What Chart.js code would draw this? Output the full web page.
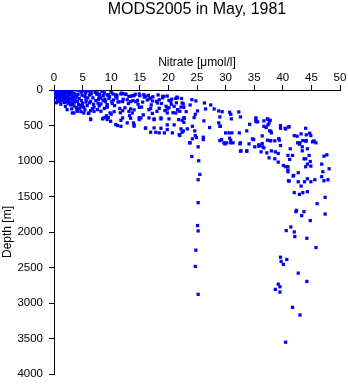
<!DOCTYPE html>
<html>
<head>
<meta charset="utf-8">
<script src="https://cdn.jsdelivr.net/npm/chart.js@4/dist/chart.umd.min.js"></script>
<style>
  html, body { margin: 0; padding: 0; background: #fff; }
</style>
</head>
<body>
<canvas id="chart" width="348" height="384"></canvas>
<script>
const chartTitle = 'MODS2005 in May, 1981';
const xLabel = 'Nitrate [\u03bcmol/l]';
const yLabel = 'Depth [m]';
const xTicks = [0, 5, 10, 15, 20, 25, 30, 35, 40, 45, 50];
const yTicks = [0, 500, 1000, 1500, 2000, 2500, 3000, 3500, 4000];

// [nitrate, depth] pairs
const surface = [
  [0.2,5],[0.5,10],[0.8,3],[1.2,8],[1.6,4],[0.3,25],[0.7,30],[1.1,22],[1.5,28],[2.0,15],
  [2.4,10],[0.4,45],[0.9,50],[1.3,40],[1.8,48],[2.2,35],[2.7,30],[3.1,20],[0.2,65],[0.6,70],
  [1.0,60],[1.4,75],[1.9,65],[2.5,55],[3.0,60],[3.5,45],[0.5,90],[0.9,95],[1.3,85],[1.7,100],
  [2.1,90],[2.6,80],[3.2,85],[3.8,70],[4.2,60],[0.3,110],[0.8,120],[1.2,115],[1.6,130],[2.3,110],
  [2.8,120],[3.4,105],[4.0,95],[1.0,140],[1.5,155],[2.0,145],[2.6,160],[3.2,140],[3.7,130],[4.4,120],
  [1.8,175],[2.5,190],[3.0,180],[3.6,170],[4.1,160],[4.8,150],[2.9,210],[3.5,225],[4.3,205],[5.0,190],
  [0.6,150],[0.4,180],[1.2,200],[4.1,2],[4.6,10],[5.3,5],[6.0,15],[5.5,25],[6.6,8],[4.8,30],
  [0.1,15],[0.4,38],[0.7,55],[1.0,80],[1.4,105],[1.9,120],[2.4,135],[0.9,165],[2.2,170],[3.3,195]
];
const shallow = [
  [6.4,407],[8.5,407],[9.0,384],[9.2,365],[3.5,323],[4.7,305],[6.4,291],[7.6,277],[5.2,244],[9.0,164],
  [8.2,197],[5.8,220],[7.0,240],[6.2,180],[7.3,150],[5.6,130],[6.8,110],[7.9,100],[8.6,80],[7.5,60],
  [6.2,70],[5.4,90],[4.5,260],[6.0,330],[6.4,160],[7.6,42],[8.2,112],[9.3,206],[6.1,323],[7.0,300],
  [6.4,52],[5.0,230],[5.2,323],[4.1,300],[3.2,323],[2.3,277],[2.0,230],[6.4,417],[8.7,393],[8.2,300],
  [9.8,323],[3.9,245],[4.6,215],[5.6,170],[6.9,200],[7.7,185],[8.9,130],[9.7,95],[5.9,110],[4.9,75],
  [3.1,265],[4.0,280],[5.4,280],[6.7,265],[7.9,225],[8.8,260],[10.2,190],[11.0,115],[10.0,35],[8.4,20]
];
const upperBand = [
  [10.8,90],[12.0,52],[12.8,136],[13.7,80],[14.6,146],[15.7,66],[16.9,112],[18.1,183],[19.2,90],[20.4,160],
  [21.0,230],[21.6,277],[5.5,45],[6.5,55],[7.2,35],[8.0,60],[8.8,40],[9.5,70],[10.3,55],[11.0,75],
  [11.8,45],[12.6,65],[13.4,90],[14.2,60],[15.0,80],[15.8,100],[16.5,75],[17.3,95],[18.2,70],[19.0,110],
  [19.8,85],[20.6,130],[21.5,100],[22.3,120],[7.8,130],[8.6,150],[9.6,120],[10.4,140],[11.2,170],[12.1,130],
  [13.0,190],[13.8,150],[14.7,200],[15.5,170],[16.3,140],[17.0,210],[17.9,160],[18.8,190],[19.6,230],[20.5,200],
  [21.4,180],[22.2,240],[9.2,240],[10.6,220],[11.5,260],[12.4,250],[14.0,280],[15.3,240],[16.9,260],[18.0,300],
  [19.4,290],[20.8,320],[22.0,300],[10.0,340],[11.6,320],[13.2,360],[15.6,350],[17.2,330],
  [9.3,70],[10.8,70],[11.7,56],[12.5,56],[13.1,90],[14.0,80],[14.9,56],[16.0,90],[16.6,126],[17.2,154],
  [18.4,136],[19.0,90],[20.1,146],[21.3,118],[22.4,183],[10.1,164],[11.4,164],[12.0,164],[13.4,164],[14.3,164],
  [9.3,239],[10.5,305],[12.0,291],[13.4,267],[14.9,244],[16.6,277],[18.4,258],[19.8,267],[21.6,277],[22.7,244]
];
const lowerBand = [
  [9.5,389],[11.7,427],[13.4,398],[14.9,389],[17.5,407],[18.7,407],[20.1,407],[22.7,389],[11.1,501],[14.0,491],
  [16.0,539],[16.9,595],[17.8,595],[18.7,539],[19.8,491],[21.0,491],[19.8,557],[22.2,548],[22.7,455],
  [14.9,417],[16.0,534],[17.5,534],[18.4,604],[19.3,604],[20.7,604],[21.9,628],[11.7,511],[9.3,417],[9.9,440],
  [10.8,487],[12.8,463],[13.9,463],[14.0,510],[12.0,393],[13.1,300],[13.7,323],[15.2,393],[16.6,393],[17.5,417],
  [18.7,393],[19.8,323],[20.1,250],[21.3,323],[21.8,417]
];
const midBand = [
  [24.1,136],[24.8,154],[26.3,183],[27.4,211],[23.8,211],[22.6,197],[28.0,267],[26.5,267],[28.8,295],[29.4,305],
  [30.7,314],[30.9,342],[32.3,309],[32.6,379],[31.0,407],[29.0,379],[25.1,295],[24.7,342],[24.5,389],[23.1,305],
  [22.8,398],[26.2,435],[29.0,511],[27.2,529],[22.6,576],[23.3,548],[24.2,511],[24.6,576],[24.7,642],[24.9,670],
  [26.1,665],[26.1,698],[24.2,688],[23.8,744],[29.3,698],[29.7,744],[30.2,744],[30.7,679],[31.1,604],[32.4,604],
  [33.7,576],[34.7,688],[35.3,407],[34.2,483],[32.6,744],[22.4,427],[22.4,595],[22.0,642],[21.6,112],[28.8,463],
  [29.1,510],[30.0,604],[30.6,604],[30.9,707],[31.3,744],[32.6,862],[33.7,862],[34.9,698],[35.8,791],[36.4,754]
];
const nitracline = [
  [35.3,393],[35.3,445],[36.7,435],[37.4,413],[37.8,427],[37.4,491],[37.1,529],[37.7,576],[38.0,604],[36.4,646],
  [39.6,501],[39.6,539],[40.4,539],[41.0,520],[39.3,684],[37.9,712],[38.6,716],[42.0,642],[42.5,651],[43.2,618],
  [44.0,539],[44.1,632],[44.7,609],[44.9,642],[43.5,712],[44.1,712],[45.2,730],[45.8,744],[42.6,744],[42.9,763],
  [35.8,772],[35.6,449],[37.3,407],[37.6,463],[36.7,511],[37.9,581],[37.3,707],[39.4,707],[40.5,548],[41.1,520],
  [45.5,721]
];
const intermediate = [
  [23.7,744],[25.2,800],[24.1,936],[25.3,997],[25.5,1189],[25.2,1264],[25.2,1587],[29.0,712],[29.9,759],[30.9,744],
  [32.5,759],[34.1,759],[35.1,800],[35.9,782],[36.7,815],[36.2,871],[37.2,885],[37.6,955],[32.7,857],[33.7,857],
  [36.5,800],[38.0,857],[38.7,871],[39.2,894],[38.6,969],[39.2,1016],[39.6,782],[37.8,716],[41.3,828],[40.9,922],
  [41.7,922],[41.2,978],[40.1,1063],[40.9,1081],[40.9,1151],[41.0,1278],[41.9,1203],[42.7,1165],[42.7,1292],[43.8,1292],
  [44.3,1250],[44.9,1292],[45.6,1264],[43.2,1353],[42.0,1446],[42.9,1470],[43.5,1446],[44.3,1432],[43.0,744],[44.0,721],
  [45.4,721],[43.4,800],[44.3,828],[43.4,857],[44.6,922],[43.7,969],[44.0,969],[44.8,1007],[44.3,1044],[44.9,1072],
  [44.0,1081],[46.8,1044],[47.2,932],[47.7,913],[48.1,1109],[46.8,1221],[47.0,1151],[47.2,1278],[47.9,1264],[47.4,1512],
  [46.0,1601],[47.4,1747],[43.7,1713],[42.4,1695],[42.3,1713],[43.3,1769],[44.8,1839],[40.5,1081],[40.9,1128],[41.8,1213],
  [41.1,1283]
];
const deep = [
  [25.1,1909],[25.2,1985],[24.8,2256],[24.7,2485],[25.2,2878],[41.4,1929],[40.6,1980],[42.0,1999],[42.1,2064],[44.2,2088],
  [45.8,2219],[39.6,2355],[40.7,2387],[39.7,2415],[40.1,2457],[42.7,2579],[44.2,2696],[39.2,2734],[39.5,2771],[38.7,2808],
  [39.5,2846],[41.7,3061],[43.0,3169],[40.5,3552]
];

const allPoints = [surface, shallow, upperBand, lowerBand, midBand, nitracline, intermediate, deep]
  .flat()
  .map(p => ({ x: p[0], y: p[1] }));

const fontFamily = '"Liberation Sans", Arial, Helvetica, sans-serif';
const tickFont = { family: fontFamily, size: 11.5 };
const labelFont = { family: fontFamily, size: 12 };

// keep the plot box where the picture has it: no extra room for edge labels
const noEdgePadding = s => { s.paddingTop = 0; s.paddingBottom = 0; s.paddingLeft = 0; s.paddingRight = 0; };

new Chart(document.getElementById('chart'), {
  type: 'scatter',
  data: {
    datasets: [{
      data: allPoints,
      pointStyle: 'rect',
      pointRadius: 2.3,
      pointHoverRadius: 2.3,
      borderWidth: 0,
      backgroundColor: '#0000ff'
    }]
  },
  options: {
    responsive: false,
    animation: false,
    devicePixelRatio: 1,
    layout: { padding: { left: 0, right: 8, top: 0, bottom: 10 } },
    plugins: {
      legend: { display: false },
      tooltip: { enabled: false },
      title: {
        display: true,
        text: chartTitle,
        fullSize: false,
        color: '#000',
        font: { family: fontFamily, size: 16, weight: 'normal', lineHeight: 1.0 },
        padding: { top: 2, bottom: 0 }
      }
    },
    scales: {
      x: {
        type: 'linear',
        position: 'top',
        min: 0,
        max: 50,
        afterBuildTicks: s => { s.ticks = xTicks.map(v => ({ value: v })); },
        afterFit: s => { s.height = 72; noEdgePadding(s); },
        ticks: { color: '#000', font: tickFont, padding: 0.5, maxRotation: 0, autoSkip: false, callback: v => String(v) },
        grid: { drawOnChartArea: false, drawTicks: true, tickLength: 5, color: '#000' },
        border: { display: true, color: '#000', width: 1 },
        title: { display: true, text: xLabel, color: '#000', font: labelFont, padding: { top: 37.3, bottom: 0 } }
      },
      y: {
        type: 'linear',
        reverse: true,
        min: 0,
        max: 4000,
        afterBuildTicks: s => { s.ticks = yTicks.map(v => ({ value: v })); },
        afterFit: s => { s.width = 54; noEdgePadding(s); },
        ticks: { color: '#000', font: tickFont, padding: 6, autoSkip: false, callback: v => String(v) },
        grid: { drawOnChartArea: false, drawTicks: true, tickLength: 5, color: '#000' },
        border: { display: true, color: '#000', width: 1 },
        title: { display: true, text: yLabel, color: '#000', font: labelFont, padding: { top: 0.5, bottom: 0 } }
      }
    }
  }
});
</script>
</body>
</html>
